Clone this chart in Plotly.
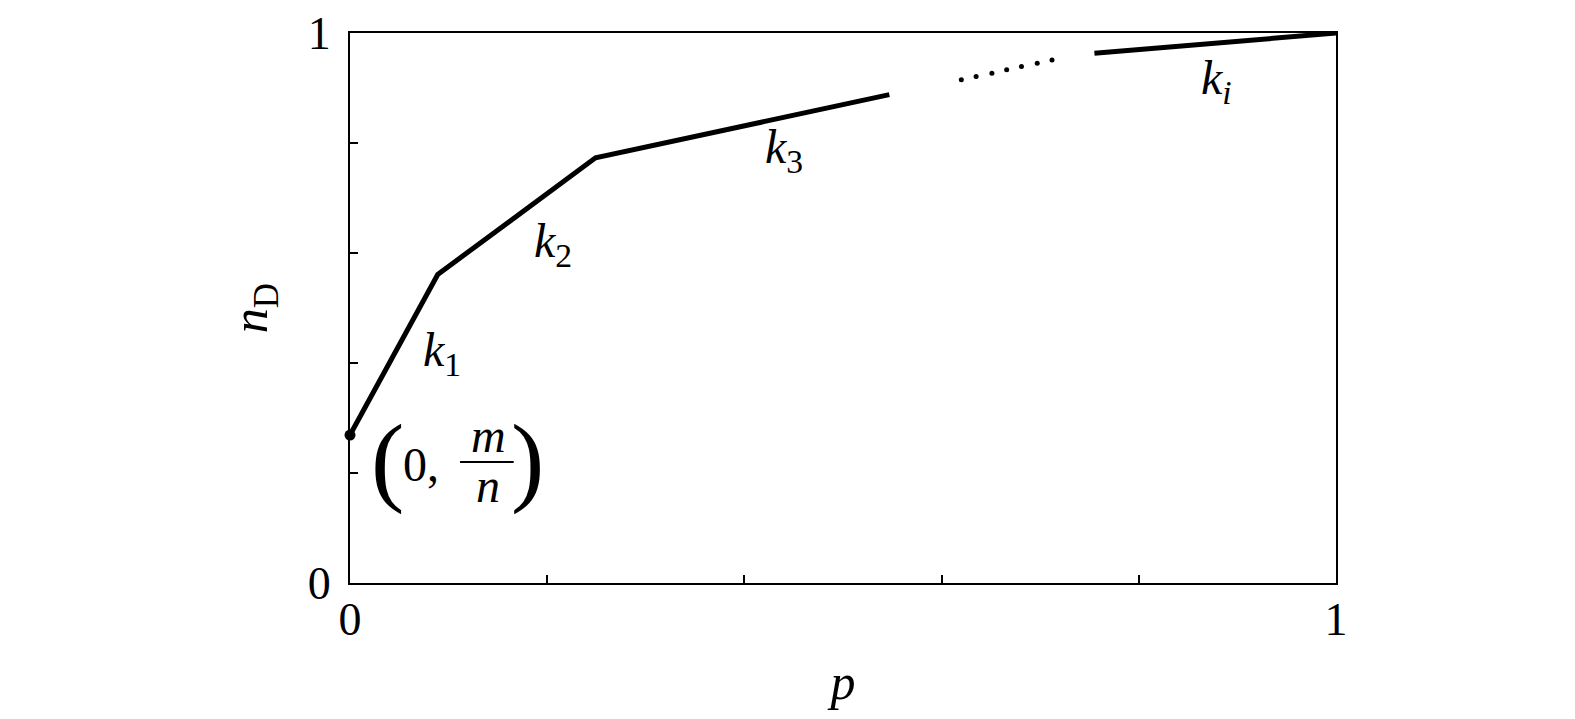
import plotly.graph_objects as go

# piecewise-linear curve
curve_x = [0.0, 0.089, 0.249, 0.547]
curve_y = [0.269, 0.561, 0.773, 0.888]
dots_x = [0.620, 0.635, 0.651, 0.666, 0.681, 0.697, 0.712]
dots_y = [0.915, 0.921, 0.927, 0.933, 0.939, 0.945, 0.951]
last_x = [0.755, 1.0]
last_y = [0.963, 1.0]
start_x = [0.0]
start_y = [0.269]

slope_labels = ["<i>k</i><sub>1</sub>", "<i>k</i><sub>2</sub>", "<i>k</i><sub>3</sub>", "<i>k</i><sub><i>i</i></sub>"]
slope_lx = [0.093, 0.206, 0.440, 0.879]
slope_ly = [0.418, 0.617, 0.787, 0.913]

tick_vals = [0, 0.2, 0.4, 0.6, 0.8, 1]
tick_text = ["0", "", "", "", "", "1"]

FONT = "Liberation Serif"
fig = go.Figure()
fig.add_trace(go.Scatter(x=curve_x, y=curve_y, mode="lines",
                         line=dict(color="black", width=5), cliponaxis=False))
fig.add_trace(go.Scatter(x=last_x, y=last_y, mode="lines",
                         line=dict(color="black", width=5), cliponaxis=False))
fig.add_trace(go.Scatter(x=dots_x, y=dots_y, mode="markers",
                         marker=dict(color="black", size=5), cliponaxis=False))
fig.add_trace(go.Scatter(x=start_x, y=start_y, mode="markers",
                         marker=dict(color="black", size=11), cliponaxis=False))

for t, x, y in zip(slope_labels, slope_lx, slope_ly):
    fig.add_annotation(x=x, y=y, text=t, showarrow=False,
                       font=dict(family=FONT, size=48, color="black"))

# point label (0, m/n)
fig.add_annotation(x=0.0385, y=0.225, text="(", showarrow=False,
                   font=dict(family=FONT, size=100, color="black"))
fig.add_annotation(x=0.180, y=0.225, text=")", showarrow=False,
                   font=dict(family=FONT, size=100, color="black"))
fig.add_annotation(x=0.072, y=0.216, text="0,", showarrow=False,
                   font=dict(family=FONT, size=48, color="black"))
fig.add_annotation(x=0.140, y=0.269, text="<i>m</i>", showarrow=False,
                   font=dict(family=FONT, size=48, color="black"))
fig.add_annotation(x=0.140, y=0.178, text="<i>n</i>", showarrow=False,
                   font=dict(family=FONT, size=48, color="black"))
fig.add_shape(type="line", x0=0.1116, x1=0.166, y0=0.22, y1=0.22,
              line=dict(color="black", width=2))

fig.update_xaxes(range=[0, 1], tickvals=tick_vals, ticktext=tick_text,
                 ticks="inside", ticklen=8, tickwidth=1.5, tickcolor="black",
                 showline=True, linecolor="black", linewidth=2, mirror=True,
                 showgrid=False, zeroline=False, ticklabeloverflow="allow",
                 automargin=False, ticklabelstandoff=-5,
                 tickfont=dict(family=FONT, size=46, color="black"),
                 title=dict(text="<i>p</i>", font=dict(family=FONT, size=50, color="black"), standoff=20))
fig.update_yaxes(range=[0, 1], tickvals=tick_vals, ticktext=tick_text,
                 ticks="inside", ticklen=8, tickwidth=1.5, tickcolor="black",
                 showline=True, linecolor="black", linewidth=2, mirror=True,
                 showgrid=False, zeroline=False, ticklabeloverflow="allow",
                 ticklabelstandoff=8, automargin=False,
                 tickfont=dict(family=FONT, size=46, color="black"),
                 title=dict(text="<i>n</i><sub>D</sub>", font=dict(family=FONT, size=50, color="black"), standoff=24))
fig.update_layout(width=1575, height=719, showlegend=False,
                  plot_bgcolor="white", paper_bgcolor="white",
                  margin=dict(l=342, r=247, t=25, b=144))
fig.write_html("out.html")
